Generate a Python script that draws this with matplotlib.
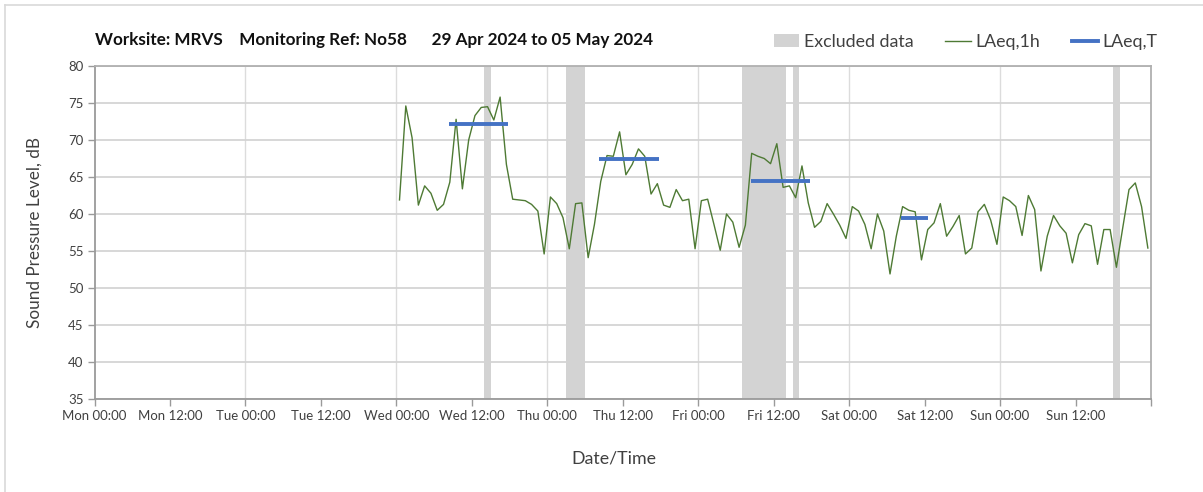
import numpy as np
import matplotlib
matplotlib.use("Agg")
import matplotlib.pyplot as plt
from matplotlib.patches import Patch
from matplotlib.lines import Line2D

plt.rcParams['font.family'] = ['Lato', 'DejaVu Sans']

# ---- data (x in hours since Mon 29 Apr 2024 00:00) ----
title = "Worksite: MRVS    Monitoring Ref: No58      29 Apr 2024 to 05 May 2024"
tick_hours = [0, 12, 24, 36, 48, 60, 72, 84, 96, 108, 120, 132, 144, 156, 168]
tick_labels = ["Mon 00:00", "Mon 12:00", "Tue 00:00", "Tue 12:00", "Wed 00:00",
               "Wed 12:00", "Thu 00:00", "Thu 12:00", "Fri 00:00", "Fri 12:00",
               "Sat 00:00", "Sat 12:00", "Sun 00:00", "Sun 12:00", ""]
first_hour = 48.5  # first hourly value centred at Wed 00:30
laeq_1h = [61.9, 74.6, 70.3, 61.2, 63.8, 62.8, 60.5, 61.3, 64.3, 72.8,
           63.4, 70.0, 73.3, 74.4, 74.5, 72.7, 75.8, 66.7, 62.0, 61.9,
           61.8, 61.3, 60.4, 54.6, 62.3, 61.4, 59.5, 55.3, 61.4, 61.5,
           54.1, 58.6, 64.4, 67.9, 67.8, 71.1, 65.3, 66.7, 68.8, 67.8,
           62.7, 64.1, 61.2, 60.9, 63.3, 61.8, 62.0, 55.3, 61.8, 62.0,
           58.6, 55.1, 60.0, 58.9, 55.5, 58.5, 68.2, 67.8, 67.5, 66.8,
           69.5, 63.6, 63.8, 62.2, 66.5, 61.5, 58.2, 59.0, 61.4, 60.0,
           58.5, 56.7, 61.0, 60.4, 58.6, 55.3, 60.0, 57.7, 51.9, 57.0,
           61.0, 60.5, 60.3, 53.8, 57.9, 58.8, 61.4, 57.0, 58.3, 59.8,
           54.6, 55.4, 60.3, 61.3, 59.2, 55.9, 62.3, 61.8, 61.0, 57.1,
           62.5, 60.6, 52.3, 57.0, 59.8, 58.4, 57.4, 53.4, 57.2, 58.7,
           58.4, 53.2, 57.9, 57.9, 52.8, 58.1, 63.3, 64.2, 61.0, 55.4]
excluded_start = [62, 75, 103, 111, 162]
excluded_end = [63, 78, 110, 112, 163]
laeqT_start = [56.4, 80.3, 104.4, 128.3]
laeqT_end = [65.7, 89.7, 113.8, 132.6]
laeqT_value = [72.1, 67.4, 64.5, 59.4]

hours = first_hour + np.arange(len(laeq_1h))

# ---- figure ----
W, H = 1203, 492
fig = plt.figure(figsize=(W / 100, H / 100), dpi=100)
ax_left, ax_right, ax_top, ax_bottom = 94.5, 1151, 66, 399
ax = fig.add_axes([ax_left / W, 1 - ax_bottom / H, (ax_right - ax_left) / W,
                   (ax_bottom - ax_top) / H])

grey_band = '#d3d3d3'
green = '#4e7a34'
blue = '#4472c4'
txt = '#404040'

for s, e in zip(excluded_start, excluded_end):
    ax.axvspan(s, e, color=grey_band, lw=0, zorder=1)

ax.plot(hours, laeq_1h, color=green, lw=1.0, zorder=3)
ax.hlines(laeqT_value, laeqT_start, laeqT_end, color=blue, lw=2.8, zorder=4)

ax.set_xlim(0, 168)
ax.set_ylim(35, 80)
ax.set_yticks(np.arange(35, 81, 5))
ax.set_xticks(tick_hours)
ax.set_xticklabels(tick_labels)

# daily vertical gridlines + horizontal gridlines
for h in tick_hours:
    if h % 24 == 0 and 0 < h < 168:
        ax.axvline(h, color='#dcdcdc', lw=1.0, zorder=0)
ax.yaxis.grid(True, color='#d4d4d4', lw=1.3, zorder=0)
ax.set_axisbelow(True)

for side in ['left', 'bottom']:
    ax.spines[side].set_color('#9a9a9a')
    ax.spines[side].set_linewidth(1.3)
for side in ['top', 'right']:
    ax.spines[side].set_color('#b0b0b0')
    ax.spines[side].set_linewidth(1.3)

ax.tick_params(axis='both', colors='#9a9a9a', length=5, width=1, labelsize=9.5,
               labelcolor=txt)
ax.tick_params(axis='x', pad=3)
ax.tick_params(axis='y', pad=3)

ax.set_ylabel("Sound Pressure Level, dB", fontsize=12.3, color=txt)
ax.yaxis.set_label_coords((35 - ax_left) / (ax_right - ax_left), 0.5)
ax.set_xlabel("Date/Time", fontsize=12.8, color=txt)
ax.xaxis.set_label_coords((614 - ax_left) / (ax_right - ax_left),
                          -(458 - ax_bottom) / (ax_bottom - ax_top))
ax.xaxis.label.set_va('center')
ax.yaxis.label.set_va('center')

fig.text(95 / W, 1 - 40 / H, title, fontsize=12.3, fontweight='bold',
         color='#111111', ha='left', va='center')

handles = [Patch(facecolor=grey_band, edgecolor='none'),
           Line2D([], [], color=green, lw=1.0),
           Line2D([], [], color=blue, lw=2.8)]
fig.legend(handles, ["Excluded data", "LAeq,1h", "LAeq,T"], loc='center right',
           bbox_to_anchor=(1170 / W, 1 - 42 / H), ncol=3, frameon=False,
           fontsize=12.8, handlelength=1.45, handleheight=0.75, columnspacing=1.8,
           handletextpad=0.25, labelcolor=txt, borderpad=0.2)

# outer chart border
fig.add_artist(Line2D([5 / W, 5 / W], [0, 1 - 5 / H], transform=fig.transFigure,
                      color='#d9d9d9', lw=1.2))
fig.add_artist(Line2D([5 / W, 1], [1 - 5 / H, 1 - 5 / H], transform=fig.transFigure,
                      color='#d9d9d9', lw=1.2))

fig.savefig("out.png", dpi=100)
